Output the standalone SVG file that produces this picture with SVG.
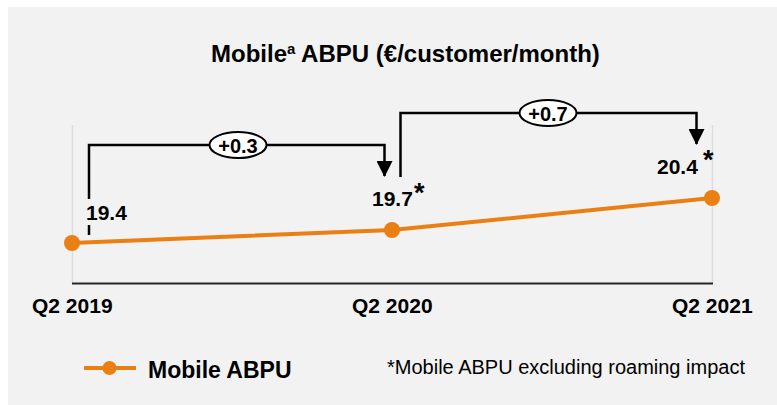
<svg xmlns="http://www.w3.org/2000/svg" width="777" height="405" viewBox="0 0 777 405">
<style>
.t{font-family:"Liberation Sans",Arial,sans-serif;fill:#000}
.b{font-weight:bold}
.br{fill:none;stroke:#000;stroke-width:2.5}
.grid{stroke:#dcdcdc;stroke-width:1.5}
.ser{fill:none;stroke:#EA7F13;stroke-width:4}
.dot{fill:#EA7F13}
.pill{fill:#fff;stroke:#000;stroke-width:2}
</style>
<defs>
<marker id="ah" markerWidth="16" markerHeight="16" viewBox="0 0 16 16" refX="15" refY="8" orient="auto" markerUnits="userSpaceOnUse">
<path d="M0,0 L16,8 L0,16 Z" fill="#000"/>
</marker>
</defs>
<rect x="0" y="0" width="777" height="405" fill="#fff"/>
<rect x="8" y="7" width="769" height="398" fill="#f2f2f2"/>
<text class="t b" x="211" y="62" font-size="24">Mobile<tspan font-size="15" dy="-8">a</tspan><tspan dy="8"> ABPU (€/customer/month)</tspan></text>
<g id="axis">
<line class="grid" x1="72.5" y1="125" x2="72.5" y2="283"/>
<line class="grid" x1="712.5" y1="125" x2="712.5" y2="283"/>
<line x1="72" y1="283.5" x2="713" y2="283.5" stroke="#262626" stroke-width="2"/>
<text class="t b" x="32" y="313" font-size="21">Q2 2019</text>
<text class="t b" x="352" y="313" font-size="21">Q2 2020</text>
<text class="t b" x="672" y="313" font-size="21">Q2 2021</text>
</g>
<g id="connectors">
<path class="ser" d="M72,243 L392,230 L712,198"/>
<path class="br" d="M89,199 V145 H384.5 V176" marker-end="url(#ah)"/>
<line class="br" x1="89" y1="225" x2="89" y2="235"/>
<path class="br" d="M400.5,177 V113 H696.5 V144" marker-end="url(#ah)"/>
</g>
<g id="p2019">
<circle class="dot" cx="72" cy="243" r="8"/>
<text class="t b" x="86" y="220" font-size="21">19.4</text>
</g>
<g id="p2020">
<circle class="dot" cx="392" cy="230" r="8"/>
<text class="t b" x="372" y="206" font-size="21">19.7</text>
<text class="t b" x="414" y="202" font-size="27">*</text>
</g>
<g id="p2021">
<circle class="dot" cx="712" cy="198" r="8"/>
<text class="t b" x="657" y="174" font-size="21">20.4</text>
<text class="t b" x="703" y="169" font-size="27">*</text>
</g>
<g id="delta1">
<ellipse class="pill" cx="238" cy="145" rx="28.5" ry="13"/>
<text class="t b" x="238" y="152.5" font-size="20" text-anchor="middle">+0.3</text>
</g>
<g id="delta2">
<ellipse class="pill" cx="548" cy="113" rx="28.5" ry="13"/>
<text class="t b" x="548" y="120.5" font-size="20" text-anchor="middle">+0.7</text>
</g>
<g id="legend">
<line x1="84" y1="368" x2="136" y2="368" stroke="#EA7F13" stroke-width="4"/>
<circle class="dot" cx="109.5" cy="368" r="7"/>
<text class="t b" x="148" y="378" font-size="23">Mobile ABPU</text>
<text class="t" x="387" y="374" font-size="20">*Mobile ABPU excluding roaming impact</text>
</g>
</svg>
